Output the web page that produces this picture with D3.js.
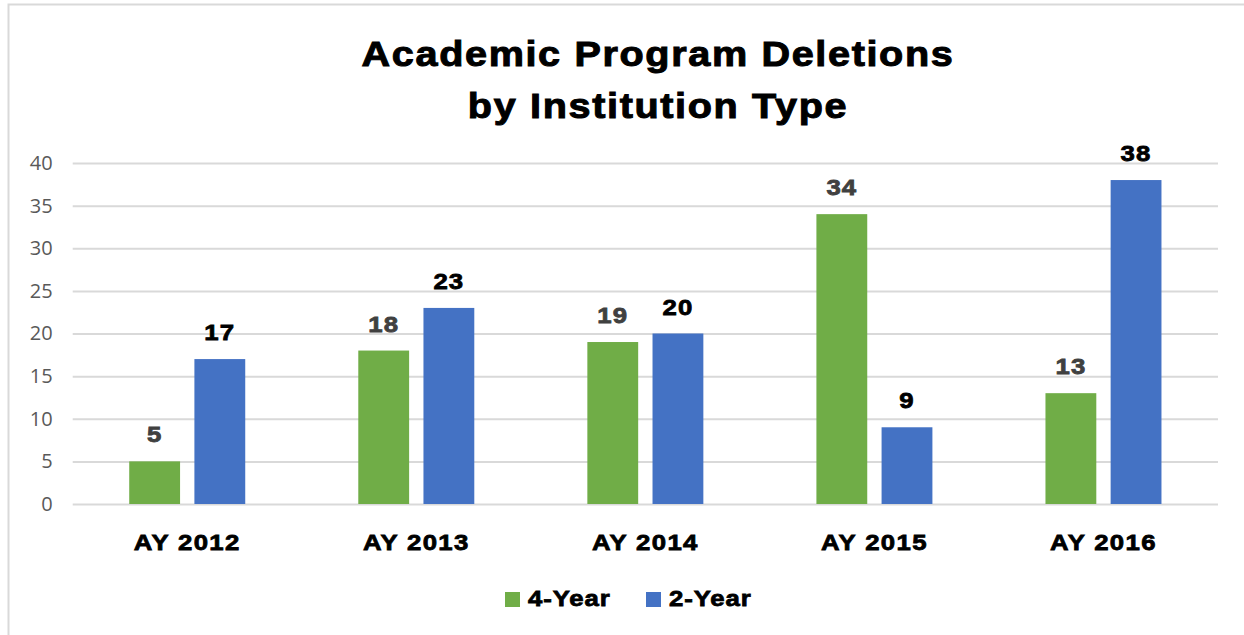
<!DOCTYPE html>
<html>
<head>
<meta charset="utf-8">
<script src="https://cdn.jsdelivr.net/npm/d3@7"></script>
<style>
  body { margin: 0; background: #fff; }
  svg { display: block; }
</style>
</head>
<body>
<script>
// data
const years = ["AY 2012", "AY 2013", "AY 2014", "AY 2015", "AY 2016"];
const fourYear = [5, 18, 19, 34, 13];
const twoYear = [17, 23, 20, 9, 38];
const seriesNames = ["4-Year", "2-Year"];
const yTicks = [0, 5, 10, 15, 20, 25, 30, 35, 40];

const w = 1244, h = 635;
const colors = ["#70AD47", "#4472C4"];
const labelColors = ["#404040", "#000000"];
const boldFont = "Liberation Sans, Arial, sans-serif";
const wide = 1.12; // the original font is wider than Liberation bold

const svg = d3.select("body").append("svg")
  .attr("width", w)
  .attr("height", h);

// chart border
svg.append("rect")
  .attr("x", 8.5).attr("y", 4.5)
  .attr("width", w).attr("height", h)
  .attr("fill", "none")
  .attr("stroke", "#d9d9d9")
  .attr("stroke-width", 2);

const title = svg.append("text")
  .attr("transform", "translate(658,0) scale(1.1,1)")
  .attr("text-anchor", "middle")
  .attr("font-family", boldFont)
  .attr("font-weight", "bold")
  .attr("font-size", 36)
  .attr("letter-spacing", 1.5)
  .attr("stroke", "#000")
  .attr("stroke-width", 1)
  .attr("fill", "#000");
title.append("tspan").attr("x", 0).attr("y", 66).text("Academic Program Deletions");
title.append("tspan").attr("x", 0).attr("y", 118).text("by Institution Type");

const plotL = 72.7, plotR = 1218, plotT = 163, plotB = 504;

const x = d3.scaleBand()
  .domain(years)
  .range([plotL, plotR]);

const x1 = d3.scaleBand()
  .domain(seriesNames)
  .range([x.bandwidth() / 2 - 58, x.bandwidth() / 2 + 58])
  .paddingInner(0.22);

const y = d3.scaleLinear()
  .domain([0, 40])
  .range([plotB, plotT]);

// gridlines + y labels
const yAxis = d3.axisLeft(y)
  .tickValues(yTicks)
  .tickSize(-(plotR - plotL))
  .tickPadding(20);

const gy = svg.append("g")
  .attr("transform", "translate(" + plotL + ",0)")
  .call(yAxis);
gy.select(".domain").remove();
gy.selectAll(".tick line").attr("stroke", "#d9d9d9").attr("stroke-width", 2);
gy.selectAll(".tick text")
  .attr("fill", "#595959")
  .attr("font-family", "Open Sans, Noto Sans, sans-serif")
  .attr("font-size", 20);

// x labels
const xAxis = d3.axisBottom(x).tickSize(0).tickPadding(30);
const gx = svg.append("g")
  .attr("transform", "translate(0," + plotB + ")")
  .call(xAxis);
gx.select(".domain").remove();
gx.selectAll(".tick text")
  .attr("transform", "scale(" + wide + ",1)")
  .attr("fill", "#000")
  .attr("font-family", boldFont)
  .attr("font-weight", "bold")
  .attr("font-size", 23)
  .attr("letter-spacing", 1.2)
  .attr("stroke", "#000")
  .attr("stroke-width", 0.8);

const rows = years.map((yr, i) => ({ year: yr, values: [fourYear[i], twoYear[i]] }));

const groups = svg.selectAll(".grp")
  .data(rows)
  .enter()
  .append("g")
  .attr("class", "grp")
  .attr("transform", d => "translate(" + x(d.year) + ",0)");

const cells = d => d.values.map((v, j) => ({ name: seriesNames[j], v: v, j: j }));

groups.selectAll("rect")
  .data(cells)
  .enter()
  .append("rect")
  .attr("x", d => x1(d.name))
  .attr("width", x1.bandwidth())
  .attr("y", d => y(d.v))
  .attr("height", d => y(0) - y(d.v))
  .attr("fill", d => colors[d.j]);

groups.selectAll(".lbl")
  .data(cells)
  .enter()
  .append("text")
  .attr("class", "lbl")
  .attr("transform", d => "translate(" + (x1(d.name) + x1.bandwidth() / 2) + "," + (y(d.v) - 19) + ") scale(" + wide + ",1)")
  .attr("text-anchor", "middle")
  .attr("font-family", boldFont)
  .attr("font-weight", "bold")
  .attr("font-size", 23)
  .attr("letter-spacing", 1)
  .attr("fill", d => labelColors[d.j])
  .attr("stroke", d => labelColors[d.j])
  .attr("stroke-width", 0.8)
  .text(d => d.v);

// legend
const legendX = [505, 646];
const legend = svg.append("g");
seriesNames.forEach((n, i) => {
  legend.append("rect")
    .attr("x", legendX[i]).attr("y", 592)
    .attr("width", 15).attr("height", 15)
    .attr("fill", colors[i]);
  legend.append("text")
    .attr("transform", "translate(" + (legendX[i] + 23) + ",606) scale(" + wide + ",1)")
    .attr("font-family", boldFont)
    .attr("font-weight", "bold")
    .attr("font-size", 23)
    .attr("letter-spacing", 0.8)
    .attr("stroke", "#000")
    .attr("stroke-width", 0.8)
    .text(n);
});
</script>
</body>
</html>
